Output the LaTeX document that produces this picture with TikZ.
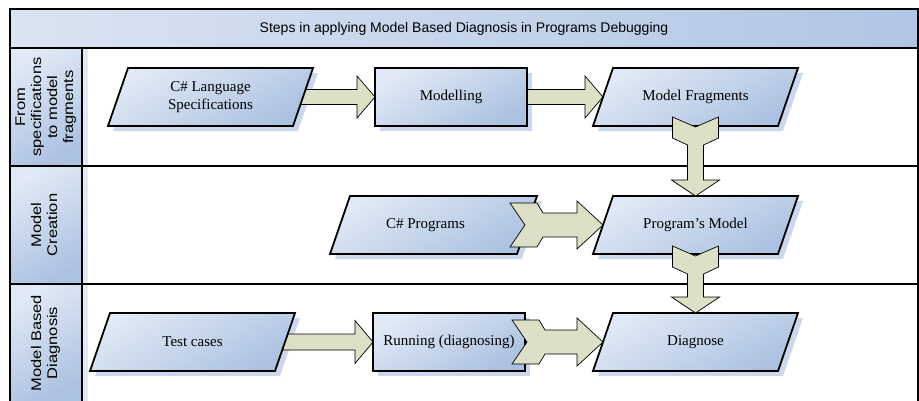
\documentclass[tikz,border=0pt]{standalone}
\usepackage{fontspec}
\setmainfont{Liberation Serif}
\setsansfont{Liberation Sans}
\usetikzlibrary{calc}

\definecolor{boxlight}{RGB}{224,233,245}
\definecolor{boxdark}{RGB}{172,194,225}
\definecolor{shadowblue}{RGB}{202,215,236}
\definecolor{arrowfill}{RGB}{219,224,199}
\definecolor{bandlight}{RGB}{218,227,241}
\definecolor{banddark}{RGB}{176,198,228}
\definecolor{colstrip}{RGB}{226,234,246}

\begin{document}
\begin{tikzpicture}[x=1pt,y=-1pt,
  frame/.style={line width=1.8pt},
  boxshade/.style={top color=boxlight, bottom color=boxdark, shading angle=30,
    draw=black, line width=1.8pt, line join=miter},
  boxshadow/.style={fill=shadowblue},
  blockarrow/.style={fill=arrowfill, draw=black, line width=0.7pt, line join=miter},
  boxtext/.style={font=\fontsize{15}{18}\selectfont, align=center, inner sep=0pt},
  lanetext/.style={font=\sffamily\fontsize{14}{16}\selectfont, rotate=90, inner sep=0pt},
  slot/.style={minimum width=#1, minimum height=58pt, inner sep=0pt, outer sep=0pt}
]
\useasboundingbox (0,0) rectangle (919,400);

% pool: title band, lane header cells, frame and lane separators
\path[left color=bandlight, right color=banddark] (10,9) rectangle (918,48);
\foreach \ytop/\ybot in {48/166,166/284,284/402}
  \path[top color=boxlight, bottom color=boxdark, shading angle=30] (10,\ytop) rectangle (82,\ybot);
\fill[colstrip] (83,49) rectangle (88,402);
\draw[frame] (10,9) rectangle (918,402);
\draw[frame] (10,48) -- (918,48);
\draw[frame] (10,166) -- (918,166);
\draw[frame] (10,284) -- (918,284);
\draw[frame] (82,48) -- (82,402);

\node[font=\sffamily\fontsize{14}{16}\selectfont, inner sep=0pt] (title) at (464,28.5)
  {Steps in applying Model Based Diagnosis in Programs Debugging};

\node[lanetext] (lane1) at (46,107) {\scalebox{1.18}[1]{\begin{tabular}{@{}c@{}}From\\specifications\\to model\\fragments\end{tabular}}};
\node[lanetext] (lane2) at (46,225) {\scalebox{1.18}[1]{\begin{tabular}{@{}c@{}}Model\\Creation\end{tabular}}};
\node[lanetext] (lane3) at (46,343) {\scalebox{1.18}[1]{\begin{tabular}{@{}c@{}}Model Based\\Diagnosis\end{tabular}}};

% step slots
\node[slot=205pt] (spec)   at (210.5,97) {};
\node[slot=152pt] (modl)   at (451,97) {};
\node[slot=205pt] (frag)   at (695.5,97) {};
\node[slot=207pt] (prog)   at (433.5,225) {};
\node[slot=205pt] (pmodel) at (695.5,225) {};
\node[slot=205pt] (tests)  at (192.5,342) {};
\node[slot=152pt] (run)    at (449,342) {};
\node[slot=205pt] (diag)   at (695.5,342) {};

% drop shadows
\foreach \n in {spec,frag,prog,pmodel,tests,diag}
  \fill[boxshadow] ($(\n.south west)+(5,5)$) -- ($(\n.south east)+(-15,5)$)
    -- ($(\n.north east)+(5,5)$) -- ($(\n.north west)+(25,5)$) -- cycle;
\foreach \n in {modl,run}
  \fill[boxshadow] ($(\n.south west)+(5,5)$) rectangle ($(\n.north east)+(5,5)$);

% plain block arrows (behind the steps)
\draw[blockarrow] ($(spec.east)+(-16,-7.5)$) -- ($(modl.west)+(-18,-7.5)$) -- ($(modl.west)+(-18,-21)$)
  -- (modl.west) -- ($(modl.west)+(-18,21)$) -- ($(modl.west)+(-18,7.5)$) -- ($(spec.east)+(-16,7.5)$) -- cycle;
\coordinate (a2t) at ($(frag.west)+(10,0)$);
\draw[blockarrow] ($(modl.east)+(-2,-7.5)$) -- ($(a2t)+(-18,-7.5)$) -- ($(a2t)+(-18,-21)$)
  -- (a2t) -- ($(a2t)+(-18,21)$) -- ($(a2t)+(-18,7.5)$) -- ($(modl.east)+(-2,7.5)$) -- cycle;
\draw[blockarrow] ($(tests.east)+(-12,-8)$) -- ($(run.west)+(-18,-8)$) -- ($(run.west)+(-18,-21.5)$)
  -- (run.west) -- ($(run.west)+(-18,21.5)$) -- ($(run.west)+(-18,8)$) -- ($(tests.east)+(-12,8)$) -- cycle;

% steps
\foreach \n in {spec,frag,prog,pmodel,tests,diag}
  \path[boxshade] (\n.south west) -- ($(\n.south east)+(-20,0)$)
    -- (\n.north east) -- ($(\n.north west)+(20,0)$) -- cycle;
\foreach \n in {modl,run}
  \path[boxshade] (\n.south west) rectangle (\n.north east);

% notched block arrows (over the steps)
\coordinate (n1s) at ($(prog.east)+(-27,0)$);
\coordinate (n1t) at ($(pmodel.west)+(10,0)$);
\draw[blockarrow] ($(n1s)+(0,-22)$) -- ($(n1s)+(27,-22)$) -- ($(n1s)+(33,-12)$) -- ($(n1t)+(-26,-12)$)
  -- ($(n1t)+(-26,-24)$) -- (n1t) -- ($(n1t)+(-26,24)$) -- ($(n1t)+(-26,12)$) -- ($(n1s)+(33,12)$)
  -- ($(n1s)+(27,22)$) -- ($(n1s)+(0,22)$) -- ($(n1s)+(15,0)$) -- cycle;
\coordinate (n2s) at ($(run.east)+(-13,0)$);
\coordinate (n2t) at ($(diag.west)+(10,0)$);
\draw[blockarrow] ($(n2s)+(0,-22)$) -- ($(n2s)+(27,-22)$) -- ($(n2s)+(33,-12)$) -- ($(n2t)+(-26,-12)$)
  -- ($(n2t)+(-26,-24)$) -- (n2t) -- ($(n2t)+(-26,24)$) -- ($(n2t)+(-26,12)$) -- ($(n2s)+(33,12)$)
  -- ($(n2s)+(27,22)$) -- ($(n2s)+(0,22)$) -- ($(n2s)+(15,0)$) -- cycle;
\coordinate (d1s) at ($(frag.south)+(0,-9)$);
\coordinate (d1t) at (pmodel.north);
\draw[blockarrow] ($(d1s)+(-23,0)$) -- ($(d1s)+(-23,21)$) -- ($(d1s)+(-8,28)$) -- ($(d1t)+(-8,-16)$)
  -- ($(d1t)+(-24,-16)$) -- (d1t) -- ($(d1t)+(24,-16)$) -- ($(d1t)+(8,-16)$) -- ($(d1s)+(8,28)$)
  -- ($(d1s)+(23,21)$) -- ($(d1s)+(23,0)$) -- ($(d1s)+(0,10)$) -- cycle;
\coordinate (d2s) at ($(pmodel.south)+(0,-8)$);
\coordinate (d2t) at (diag.north);
\draw[blockarrow] ($(d2s)+(-23,0)$) -- ($(d2s)+(-23,21)$) -- ($(d2s)+(-8,28)$) -- ($(d2t)+(-8,-16)$)
  -- ($(d2t)+(-24,-16)$) -- (d2t) -- ($(d2t)+(24,-16)$) -- ($(d2t)+(8,-16)$) -- ($(d2s)+(8,28)$)
  -- ($(d2s)+(23,21)$) -- ($(d2s)+(23,0)$) -- ($(d2s)+(0,10)$) -- cycle;

% step labels
\node[boxtext] (specT)   at (spec)   {C\# Language\\Specifications};
\node[boxtext] (modlT)   at (modl)   {Modelling};
\node[boxtext] (fragT)   at (frag)   {Model Fragments};
\node[boxtext] (progT)   at ($(prog)+(-8,0)$) {C\# Programs};
\node[boxtext] (pmodelT) at (pmodel) {Program’s Model};
\node[boxtext] (testsT)  at (tests)  {Test cases};
\node[boxtext] (runT)    at (run)    {Running (diagnosing)};
\node[boxtext] (diagT)   at (diag)   {Diagnose};
\end{tikzpicture}
\end{document}
